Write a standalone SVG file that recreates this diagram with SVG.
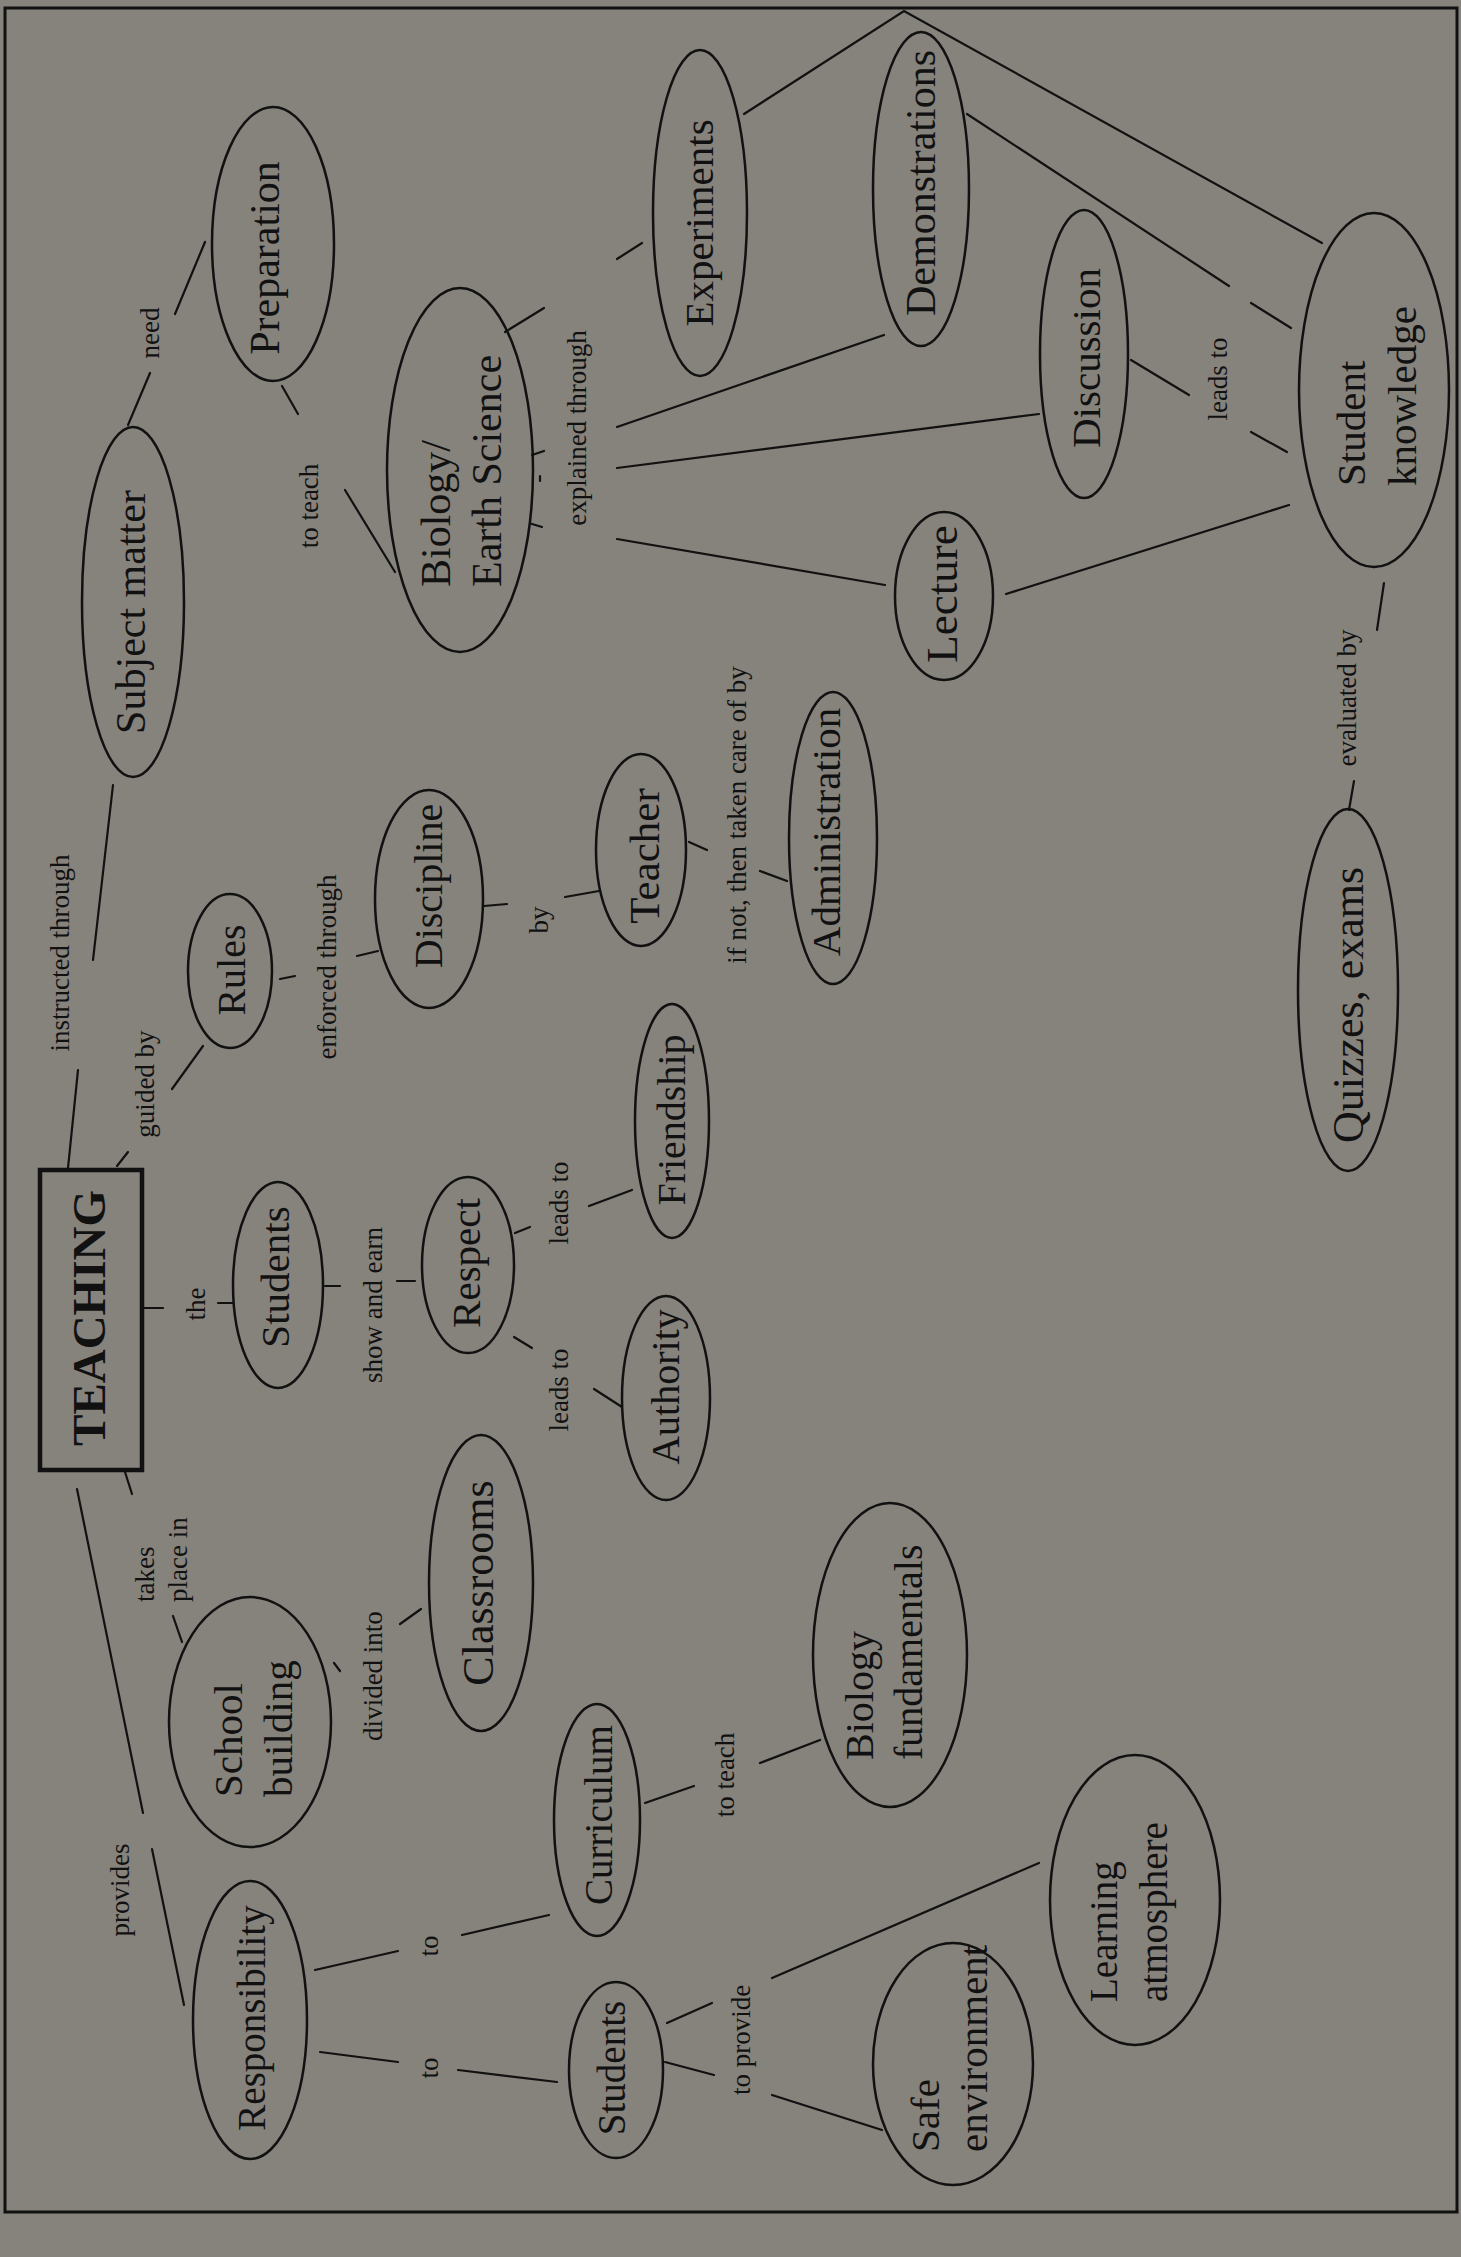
<svg xmlns="http://www.w3.org/2000/svg" width="1461" height="2257" viewBox="0 0 1461 2257">
<style>
  .bg{fill:#86827c}
  .frame{fill:none;stroke:#111;stroke-width:3}
  .node ellipse{fill:none;stroke:#111;stroke-width:2.5}
  .node rect{fill:none;stroke:#111;stroke-width:4.5}
  text{font-family:"Liberation Serif","Times New Roman",serif;fill:#111;dominant-baseline:central}
  .m{text-anchor:middle}
  .s{text-anchor:start}
  .lbl{font-size:27px}
  #connectors line,#connectors polyline{stroke:#111;stroke-width:2.2;fill:none;stroke-linecap:round}
</style>
<rect class="bg" x="0" y="0" width="1461" height="2257"/>
<rect class="frame" x="5" y="8" width="1452" height="2204"/>

<g id="connectors">
  <line x1="128" y1="425" x2="150" y2="373"/>
  <line x1="175" y1="314" x2="205" y2="242"/>
  <line x1="282" y1="386" x2="298" y2="414"/>
  <line x1="345" y1="490" x2="395" y2="572"/>
  <line x1="113" y1="785" x2="93" y2="960"/>
  <line x1="78" y1="1070" x2="68" y2="1168"/>
  <line x1="117" y1="1166" x2="128" y2="1152"/>
  <line x1="172" y1="1089" x2="203" y2="1046"/>
  <line x1="280" y1="979" x2="295" y2="976"/>
  <line x1="357" y1="956" x2="378" y2="951"/>
  <line x1="484" y1="906" x2="507" y2="904"/>
  <line x1="565" y1="897" x2="599" y2="891"/>
  <line x1="689" y1="842" x2="707" y2="850"/>
  <line x1="760" y1="871" x2="787" y2="881"/>
  <line x1="142" y1="1308" x2="163" y2="1308"/>
  <line x1="218" y1="1303" x2="233" y2="1303"/>
  <line x1="325" y1="1286" x2="340" y2="1286"/>
  <line x1="397" y1="1281" x2="415" y2="1281"/>
  <line x1="515" y1="1233" x2="530" y2="1227"/>
  <line x1="589" y1="1206" x2="632" y2="1190"/>
  <line x1="514" y1="1337" x2="532" y2="1348"/>
  <line x1="594" y1="1389" x2="622" y2="1407"/>
  <line x1="125" y1="1472" x2="132" y2="1494"/>
  <line x1="173" y1="1616" x2="182" y2="1642"/>
  <line x1="334" y1="1663" x2="340" y2="1671"/>
  <line x1="400" y1="1624" x2="421" y2="1609"/>
  <line x1="77" y1="1489" x2="143" y2="1813"/>
  <line x1="152" y1="1849" x2="184" y2="2005"/>
  <line x1="315" y1="1970" x2="398" y2="1951"/>
  <line x1="462" y1="1935" x2="549" y2="1915"/>
  <line x1="320" y1="2052" x2="398" y2="2062"/>
  <line x1="458" y1="2070" x2="557" y2="2082"/>
  <line x1="645" y1="1803" x2="694" y2="1786"/>
  <line x1="760" y1="1763" x2="820" y2="1740"/>
  <line x1="667" y1="2023" x2="712" y2="2003"/>
  <line x1="665" y1="2062" x2="714" y2="2075"/>
  <line x1="772" y1="1978" x2="1039" y2="1863"/>
  <line x1="772" y1="2095" x2="882" y2="2130"/>
  <line x1="505" y1="332" x2="544" y2="308"/>
  <line x1="617" y1="259" x2="642" y2="243"/>
  <line x1="617" y1="427" x2="884" y2="335"/>
  <line x1="617" y1="468" x2="1039" y2="414"/>
  <line x1="617" y1="539" x2="885" y2="585"/>
  <line x1="532" y1="455" x2="544" y2="451"/>
  <line x1="540" y1="476" x2="540" y2="481"/>
  <line x1="532" y1="524" x2="542" y2="527"/>
  <polyline points="744,114 904,11 1322,243"/>
  <line x1="967" y1="114" x2="1229" y2="286"/>
  <line x1="1251" y1="303" x2="1291" y2="328"/>
  <line x1="1131" y1="360" x2="1189" y2="395"/>
  <line x1="1251" y1="432" x2="1287" y2="452"/>
  <line x1="1006" y1="594" x2="1289" y2="505"/>
  <line x1="1384" y1="583" x2="1377" y2="630"/>
  <line x1="1354" y1="781" x2="1349" y2="810"/>
</g>

<g id="labels">
  <text class="lbl m" transform="translate(150 333) rotate(-90)">need</text>
  <text class="lbl m" transform="translate(309 506) rotate(-90)">to teach</text>
  <text class="lbl m" transform="translate(60 953) rotate(-90)">instructed through</text>
  <text class="lbl m" transform="translate(145 1084) rotate(-90)">guided by</text>
  <text class="lbl m" transform="translate(327 967) rotate(-90)">enforced through</text>
  <text class="lbl m" transform="translate(577 428) rotate(-90)">explained through</text>
  <text class="lbl m" transform="translate(1218 379) rotate(-90)">leads to</text>
  <text class="lbl m" transform="translate(1347 698) rotate(-90)">evaluated by</text>
  <text class="lbl m" transform="translate(737 815) rotate(-90)">if not, then taken care of by</text>
  <text class="lbl m" transform="translate(539 920) rotate(-90)">by</text>
  <text class="lbl m" transform="translate(559 1203) rotate(-90)">leads to</text>
  <text class="lbl m" transform="translate(559 1390) rotate(-90)">leads to</text>
  <text class="lbl m" transform="translate(373 1305) rotate(-90)">show and earn</text>
  <text class="lbl m" transform="translate(196 1304) rotate(-90)">the</text>
  <text class="lbl s" transform="translate(145 1602) rotate(-90)">takes</text>
  <text class="lbl s" transform="translate(178 1602) rotate(-90)">place in</text>
  <text class="lbl m" transform="translate(373 1676) rotate(-90)">divided into</text>
  <text class="lbl m" transform="translate(120 1890) rotate(-90)">provides</text>
  <text class="lbl m" transform="translate(429 1946) rotate(-90)">to</text>
  <text class="lbl m" transform="translate(429 2068) rotate(-90)">to</text>
  <text class="lbl m" transform="translate(725 1775) rotate(-90)">to teach</text>
  <text class="lbl m" transform="translate(741 2040) rotate(-90)">to provide</text>
</g>

<g id="teaching" class="node">
  <rect x="40" y="1170" width="102" height="300"/>
  <text class="m" font-size="47" font-weight="bold" transform="translate(89 1318) rotate(-90)">TEACHING</text>
</g>
<g id="preparation" class="node">
  <ellipse cx="273" cy="244" rx="61" ry="137"/>
  <text class="m" font-size="42" transform="translate(265 258) rotate(-90)">Preparation</text>
</g>
<g id="subject-matter" class="node">
  <ellipse cx="133" cy="602" rx="51" ry="175"/>
  <text class="m" font-size="42" transform="translate(131 612) rotate(-90)">Subject matter</text>
</g>
<g id="biology-earth-science" class="node">
  <ellipse cx="460" cy="470" rx="73" ry="182"/>
  <text class="s" font-size="42" transform="translate(436 587) rotate(-90)">Biology/</text>
  <text class="s" font-size="42" transform="translate(487 587) rotate(-90)">Earth Science</text>
</g>
<g id="experiments" class="node">
  <ellipse cx="700" cy="213" rx="47" ry="163"/>
  <text class="m" font-size="41" transform="translate(699 223) rotate(-90)">Experiments</text>
</g>
<g id="demonstrations" class="node">
  <ellipse cx="921" cy="189" rx="48" ry="157"/>
  <text class="m" font-size="42" transform="translate(921 183) rotate(-90)">Demonstrations</text>
</g>
<g id="discussion" class="node">
  <ellipse cx="1084" cy="354" rx="44" ry="144"/>
  <text class="m" font-size="41" transform="translate(1086 358) rotate(-90)">Discussion</text>
</g>
<g id="student-knowledge" class="node">
  <ellipse cx="1374" cy="390" rx="75" ry="177"/>
  <text class="s" font-size="41" transform="translate(1351 486) rotate(-90)">Student</text>
  <text class="s" font-size="41" transform="translate(1402 486) rotate(-90)">knowledge</text>
</g>
<g id="lecture" class="node">
  <ellipse cx="944" cy="596" rx="49" ry="84"/>
  <text class="m" font-size="45" transform="translate(942 594) rotate(-90)">Lecture</text>
</g>
<g id="rules" class="node">
  <ellipse cx="230" cy="971" rx="42" ry="77"/>
  <text class="m" font-size="40" transform="translate(231 970) rotate(-90)">Rules</text>
</g>
<g id="discipline" class="node">
  <ellipse cx="429" cy="899" rx="54" ry="109"/>
  <text class="m" font-size="40" transform="translate(428 886) rotate(-90)">Discipline</text>
</g>
<g id="teacher" class="node">
  <ellipse cx="641" cy="850" rx="45" ry="96"/>
  <text class="m" font-size="43" transform="translate(644 856) rotate(-90)">Teacher</text>
</g>
<g id="administration" class="node">
  <ellipse cx="833" cy="838" rx="44" ry="146"/>
  <text class="m" font-size="41" transform="translate(826 832) rotate(-90)">Administration</text>
</g>
<g id="friendship" class="node">
  <ellipse cx="672" cy="1121" rx="37" ry="117"/>
  <text class="m" font-size="40" transform="translate(671 1120) rotate(-90)">Friendship</text>
</g>
<g id="students-top" class="node">
  <ellipse cx="278" cy="1285" rx="45" ry="103"/>
  <text class="m" font-size="41" transform="translate(275 1277) rotate(-90)">Students</text>
</g>
<g id="respect" class="node">
  <ellipse cx="468" cy="1265" rx="46" ry="88"/>
  <text class="m" font-size="41" transform="translate(466 1263) rotate(-90)">Respect</text>
</g>
<g id="authority" class="node">
  <ellipse cx="666" cy="1398" rx="44" ry="102"/>
  <text class="m" font-size="40" transform="translate(665 1387) rotate(-90)">Authority</text>
</g>
<g id="classrooms" class="node">
  <ellipse cx="481" cy="1583" rx="52" ry="148"/>
  <text class="m" font-size="44" transform="translate(478 1583) rotate(-90)">Classrooms</text>
</g>
<g id="school-building" class="node">
  <ellipse cx="250" cy="1722" rx="81" ry="125"/>
  <text class="s" font-size="41" transform="translate(228 1797) rotate(-90)">School</text>
  <text class="s" font-size="41" transform="translate(278 1797) rotate(-90)">building</text>
</g>
<g id="biology-fundamentals" class="node">
  <ellipse cx="890" cy="1655" rx="77" ry="152"/>
  <text class="s" font-size="40" transform="translate(859 1760) rotate(-90)">Biology</text>
  <text class="s" font-size="40" transform="translate(908 1760) rotate(-90)">fundamentals</text>
</g>
<g id="curriculum" class="node">
  <ellipse cx="597" cy="1820" rx="43" ry="116"/>
  <text class="m" font-size="39" transform="translate(598 1815) rotate(-90)">Curriculum</text>
</g>
<g id="responsibility" class="node">
  <ellipse cx="250" cy="2020" rx="57" ry="139"/>
  <text class="m" font-size="39" transform="translate(251 2018) rotate(-90)">Responsibility</text>
</g>
<g id="students-bottom" class="node">
  <ellipse cx="616" cy="2070" rx="47" ry="88"/>
  <text class="m" font-size="39" transform="translate(611 2068) rotate(-90)">Students</text>
</g>
<g id="safe-environment" class="node">
  <ellipse cx="953" cy="2064" rx="80" ry="121"/>
  <text class="s" font-size="41" transform="translate(925 2152) rotate(-90)">Safe</text>
  <text class="s" font-size="41" transform="translate(973 2152) rotate(-90)">environment</text>
</g>
<g id="learning-atmosphere" class="node">
  <ellipse cx="1135" cy="1900" rx="85" ry="145"/>
  <text class="s" font-size="39" transform="translate(1103 2002) rotate(-90)">Learning</text>
  <text class="s" font-size="39" transform="translate(1153 2002) rotate(-90)">atmosphere</text>
</g>
<g id="quizzes-exams" class="node">
  <ellipse cx="1348" cy="990" rx="50" ry="181"/>
  <text class="m" font-size="44" transform="translate(1348 1005) rotate(-90)">Quizzes, exams</text>
</g>
</svg>
